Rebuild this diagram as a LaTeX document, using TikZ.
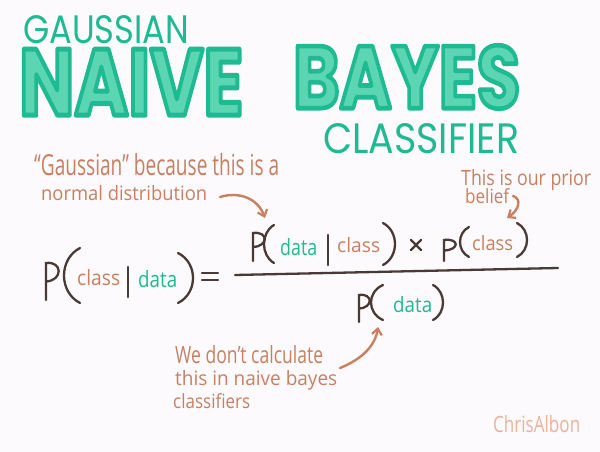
\documentclass[tikz,border=0pt]{standalone}
\usepackage{fontspec}
\setmainfont{Open Sans}
\newfontfamily\titlefont{Poppins}
\usepackage{graphicx}
\usetikzlibrary{arrows.meta}
\definecolor{bg}{RGB}{252,250,252}
\definecolor{tealA}{RGB}{30,186,146}
\definecolor{tealF}{RGB}{92,214,178}
\definecolor{orng}{RGB}{200,128,96}
\definecolor{ink}{RGB}{74,58,54}
\definecolor{sig}{RGB}{234,178,156}
\newcommand\fitw[2]{\resizebox{#1pt}{!}{#2}}
\newcommand\fitwh[3]{\resizebox{#1pt}{#2pt}{#3}}
\newcommand\outlined[1]{{\color{tealF}\special{pdf:literal direct 0.118 0.729 0.573 RG 2 Tr 5 w 1 j}#1\special{pdf:literal direct 0 Tr}}}
\newcommand\lparen[4]{\draw[formula] (#2,#3) .. controls ({(4*#1-#2)/3},{#3+0.2*(#4-#3)}) and ({(4*#1-#2)/3},{#4-0.2*(#4-#3)}) .. (#2,#4);}
\newcommand\pletter[4]{\draw[formula] (#1,#4) -- (#1,#2) .. controls ({#1+1.3*(#3-#1)},{#2-2}) and ({#1+1.3*(#3-#1)},{#2+0.95*(#4-#2)*0.5}) .. (#1,{#2+0.5*(#4-#2)});}
\begin{document}
\begin{tikzpicture}[x=1pt,y=-1pt,
  formula/.style={draw=ink,line width=2.3pt,line cap=round},
  note/.style={text=orng,inner sep=0pt,anchor=base west},
  word/.style={inner sep=0pt,anchor=base west},
  title/.style={text=tealA,inner sep=0pt,anchor=north west},
  annarrow/.style={draw=orng,line width=2.4pt,line cap=round,-{Straight Barb[length=6pt,width=10pt,line width=2.2pt]}}]
\fill[bg] (0,0) rectangle (600,452);
\useasboundingbox (0,0) rectangle (600,452);

% titles
\node[title] (gauss) at (23,15) {\fitwh{166}{28}{\titlefont GAUSSIAN}};
\node[title] (naive) at (19,49) {\fitwh{224}{66}{\titlefont\fontsize{96pt}{96pt}\selectfont\bfseries\outlined{NAIVE}}};
\node[title] (bayes) at (293,45) {\fitwh{227}{63}{\titlefont\fontsize{96pt}{96pt}\selectfont\bfseries\outlined{BAYES}}};
\node[title] (classifier) at (323,123) {\fitwh{196}{30}{\titlefont CLASSIFIER}};

% annotations
\node[note] (n1a) at (34,175) {\fitwh{245}{22}{“Gaussian” because this is a}};
\node[note] (n1b) at (41,200) {\fitwh{166}{15}{normal distribution}};
\node[note] (n2a) at (461,185) {\fitwh{130}{16}{This is our prior}};
\node[note] (n2b) at (465,203) {\fitwh{44}{15}{belief}};
\node[note] (n3a) at (175,363) {\fitwh{148}{18}{We don’t calculate}};
\node[note] (n3b) at (175,385) {\fitwh{162}{15}{this in naive bayes}};
\node[note] (n3c) at (173,408) {\fitwh{77}{15}{classifiers}};
\node[word,text=sig] (sig) at (493,432) {\fitwh{87}{17}{ChrisAlbon}};

% formula words
\node[word,text=orng] (c1) at (77,285) {\fitwh{43}{16}{class}};
\node[word,text=tealA] (d1) at (138,287) {\fitwh{39}{17}{data}};
\node[word,text=tealA] (d2) at (280,255) {\fitwh{37}{17}{data}};
\node[word,text=orng] (c2) at (337,252) {\fitwh{43}{15}{class}};
\node[word,text=orng] (c3) at (472,250) {\fitwh{41}{15}{class}};
\node[word,text=tealA] (d3) at (393,312) {\fitwh{39}{16}{data}};

% P letters
\pletter{46}{263}{59}{300}
\pletter{253}{233}{265}{261}
\pletter{444}{240}{456}{261}
\pletter{359}{295}{370}{322}

% parentheses
\lparen{64}{80}{248}{303}
\lparen{193}{178}{253}{303}
\lparen{264}{274}{225}{263}
\lparen{395}{383}{223}{265}
\lparen{460}{469}{227}{257}
\lparen{527}{517}{223}{257}
\lparen{371}{383}{285}{320}
\lparen{443}{433}{285}{320}

% bars, equals, times, fraction
\draw[formula] (128,267) -- (128,297);
\draw[formula] (328,235) -- (328,265);
\draw[formula] (202,273) -- (218,273);
\draw[formula] (202,280) -- (218,280);
\draw[formula] (411,240) -- (421,250);
\draw[formula] (421,240) -- (411,250);
\draw[formula] (235,275) -- (558,268);

% arrows
\coordinate (a1s) at (220,197);
\coordinate (a1e) at (265,218);
\coordinate (a2s) at (513,196);
\coordinate (a2e) at (507,218);
\coordinate (a3s) at (340,368);
\coordinate (a3e) at (378,327);
\draw[annarrow] (a1s) .. controls (240,191) and (258,199) .. (a1e);
\draw[annarrow] (a2s) .. controls (522,199) and (519,210) .. (a2e);
\draw[annarrow] (a3s) .. controls (360,360) and (375,347) .. (a3e);
\end{tikzpicture}
\end{document}
